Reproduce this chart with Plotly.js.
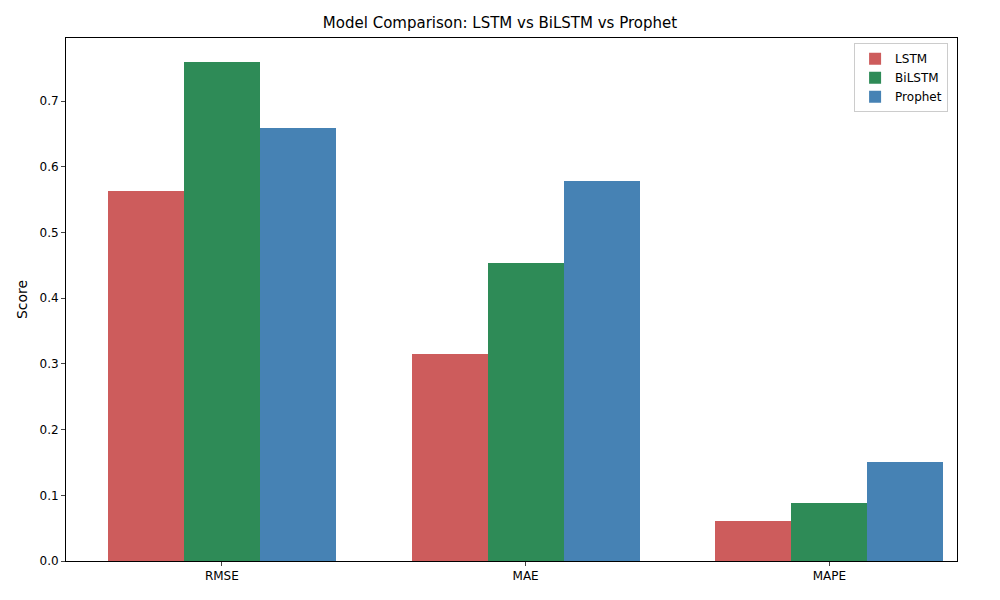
<!DOCTYPE html>
<html><head><script src="https://cdn.plot.ly/plotly-3.0.1.min.js"></script></head>
<body style="margin:0"><div id="c" style="width:1000px;height:600px"></div>
<script>
const metrics=["RMSE","MAE","MAPE"];
const lstm=[0.563,0.315,0.061];
const bilstm=[0.760,0.454,0.088];
const prophet=[0.659,0.578,0.151];
const names=["LSTM","BiLSTM","Prophet"];
const colors=["#CD5C5C","#2E8B57","#4682B4"];
const series=[lstm,bilstm,prophet];
const idx=metrics.map((_,i)=>i);
const traces=series.map((s,k)=>({type:"bar",name:names[k],x:idx.map(i=>i+(k-1)*0.25),y:s,width:0.25,marker:{color:colors[k]}}));
Plotly.newPlot("c",traces,{
 width:1000,height:600,margin:{l:66,r:43,t:38,b:39},
 paper_bgcolor:"white",plot_bgcolor:"white",
 font:{family:"DejaVu Sans",size:12,color:"#000"},
 title:{text:"Model Comparison: LSTM vs BiLSTM vs Prophet",x:0.5,xanchor:"center",y:0.962,yanchor:"middle",font:{size:15}},
 xaxis:{range:[-0.513,2.42],tickvals:idx,ticktext:metrics,showline:true,mirror:true,linecolor:"#000",ticks:"outside",ticklen:4,showgrid:false,zeroline:false},
 yaxis:{range:[0,0.796],dtick:0.1,tickformat:".1f",showline:true,mirror:true,linecolor:"#000",ticks:"outside",ticklen:4,showgrid:false,zeroline:false,title:{text:"Score",standoff:8}},
 legend:{x:0.99,y:0.99,xanchor:"right",yanchor:"top",bordercolor:"#ccc",borderwidth:1,bgcolor:"rgba(255,255,255,0.8)"},
 bargap:0
},{displayModeBar:false});
</script></body></html>
